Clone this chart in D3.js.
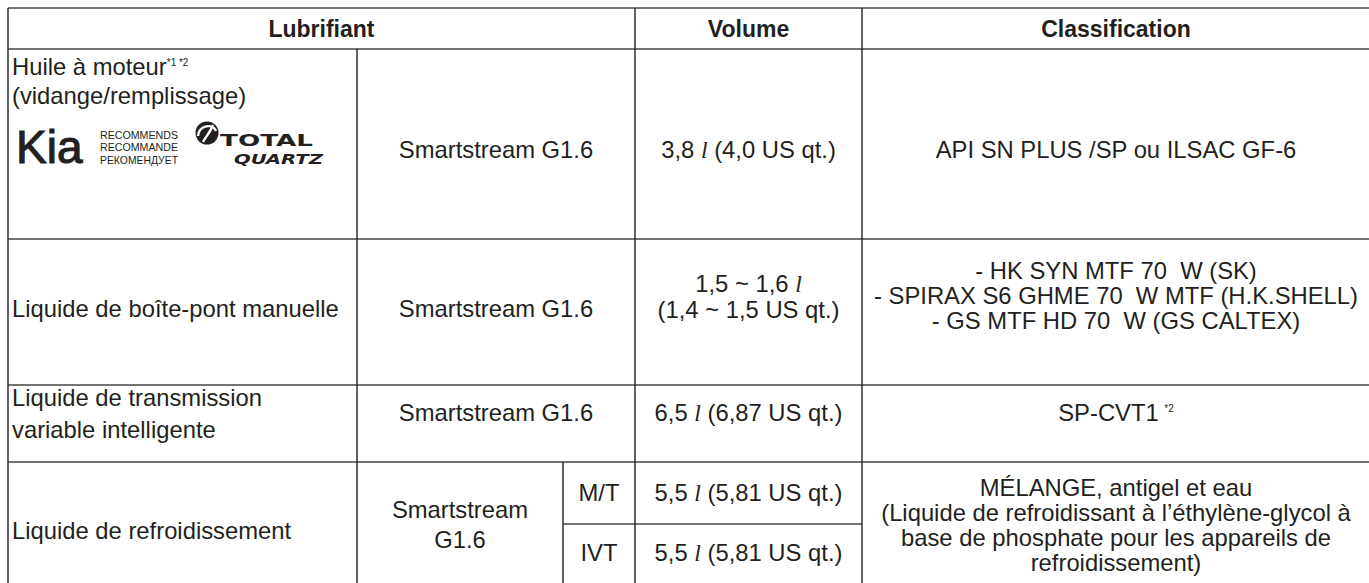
<!DOCTYPE html>
<html>
<head>
<meta charset="utf-8">
<script src="https://cdn.jsdelivr.net/npm/d3@7"></script>
<style>
  html, body { margin: 0; padding: 0; background: #fff; }
  svg { display: block; }
  text { white-space: pre; }
</style>
</head>
<body>
<svg id="chart" width="1369" height="583"></svg>
<script>
// ---------------- DATA ----------------
const headers = ["Lubrifiant", "Volume", "Classification"];
const lubricants = [
  ["Huile à moteur", "(vidange/remplissage)"],
  ["Liquide de boîte-pont manuelle"],
  ["Liquide de transmission", "variable intelligente"],
  ["Liquide de refroidissement"]
];
const lubricantNotes = ["*1 *2", "", "", ""];
const engines = [
  ["Smartstream G1.6"],
  ["Smartstream G1.6"],
  ["Smartstream G1.6"],
  ["Smartstream", "G1.6"]
];
const transmissions = ["M/T", "IVT"];
const volumes = [
  ["3,8 l (4,0 US qt.)"],
  ["1,5 ~ 1,6 l", "(1,4 ~ 1,5 US qt.)"],
  ["6,5 l (6,87 US qt.)"],
  ["5,5 l (5,81 US qt.)"],
  ["5,5 l (5,81 US qt.)"]
];
const classifications = [
  ["API SN PLUS /SP ou ILSAC GF-6"],
  ["- HK SYN MTF 70  W (SK)", "- SPIRAX S6 GHME 70  W MTF (H.K.SHELL)", "- GS MTF HD 70  W (GS CALTEX)"],
  ["SP-CVT1"],
  ["MÉLANGE, antigel et eau", "(Liquide de refroidissant à l’éthylène-glycol à", "base de phosphate pour les appareils de", "refroidissement)"]
];
const classificationNotes = ["", "", "*2", ""];
const logoBrand = "Kia";
const logoWords = ["RECOMMENDS", "RECOMMANDE", "РЕКОМЕНДУЕТ"];
const partnerWords = ["TOTAL", "QUARTZ"];

// ---------------- LAYOUT ----------------
const svg = d3.select("#chart");
const INK = "#231f20";
const FONT = "'Liberation Sans', Arial, Helvetica, sans-serif";
const FS = 23.8;

// column boundaries: left, lubricant|engine, engine|volume, volume|classification, right
const colScale = d3.scaleOrdinal().domain(["left", "eng", "vol", "cls", "right"]).range([8, 357, 635, 862, 1370]);
const subColX = 563;
// row boundaries
const rowScale = d3.scaleOrdinal().domain(d3.range(6)).range([8, 49, 239, 385, 462, 585]);
const subRowY = 524;

const g = svg.append("g");

// grid lines
const X = k => colScale(k), Y = i => rowScale(i);
const hLines = [
  [X("left"), X("right"), Y(0)], [X("left"), X("right"), Y(1)], [X("left"), X("right"), Y(2)],
  [X("left"), X("right"), Y(3)], [X("left"), X("right"), Y(4)], [subColX, X("cls"), subRowY],
  [X("left"), X("right"), Y(5)]
];
const vLines = [
  [X("left"), Y(0), Y(5)], [X("eng"), Y(1), Y(5)], [subColX, Y(4), Y(5)],
  [X("vol"), Y(0), Y(5)], [X("cls"), Y(0), Y(5)], [X("right"), Y(0), Y(5)]
];
g.selectAll("line.h").data(hLines).join("line").attr("class", "h")
  .attr("x1", d => d[0]).attr("x2", d => d[1]).attr("y1", d => d[2]).attr("y2", d => d[2])
  .attr("stroke", "#444").attr("stroke-width", 1.6);
g.selectAll("line.v").data(vLines).join("line").attr("class", "v")
  .attr("x1", d => d[0]).attr("x2", d => d[0]).attr("y1", d => d[1]).attr("y2", d => d[2])
  .attr("stroke", "#222").attr("stroke-width", 1.4);

// helper: draw multi-line text; a token "l" alone is drawn as the italic litre sign
function drawLines(x, cy, lines, spacing, anchor, opts = {}) {
  const n = lines.length;
  lines.forEach((line, i) => {
    const y = cy + (i - (n - 1) / 2) * spacing;
    const t = g.append("text")
      .attr("x", x).attr("y", y).attr("dy", "0.35em")
      .attr("text-anchor", anchor)
      .attr("font-family", FONT).attr("font-size", opts.size || FS)
      .attr("font-weight", opts.weight || "normal")
      .attr("fill", INK);
    const parts = line.split(/(\sl(?=\s|$))/);
    parts.forEach(p => {
      if (/^\sl$/.test(p)) {
        t.append("tspan").text(" ");
        t.append("tspan").attr("font-family", "'Liberation Serif', 'DejaVu Serif', serif")
          .attr("font-style", "italic").text("l");
      } else if (p.length) {
        t.append("tspan").text(p);
      }
    });
    if (opts.note && i === 0) {
      t.append("tspan").attr("font-size", 10).attr("dy", "-0.9em").text(opts.note);
    }
  });
}

// header
const headerCy = 29;
drawLines((X("left") + X("vol")) / 2, headerCy, [headers[0]], 25, "middle", { weight: "bold", size: 23 });
drawLines((X("vol") + X("cls")) / 2, headerCy, [headers[1]], 25, "middle", { weight: "bold", size: 23 });
drawLines((X("cls") + X("right")) / 2, headerCy, [headers[2]], 25, "middle", { weight: "bold", size: 23 });

// lubricant column (left aligned)
const lubCy = [81, 309, 414, 531];
const lubSpacing = [29, 0, 32, 0];
lubricants.forEach((lines, i) => {
  drawLines(X("left") + 4, lubCy[i], lines, lubSpacing[i], "start", { note: lubricantNotes[i] ? lubricantNotes[i] : "" });
});

// engine column
const engCy = [150, 309, 413, 525];
engines.forEach((lines, i) => {
  const right = i === 3 ? subColX : X("vol");
  drawLines((X("eng") + right) / 2, engCy[i], lines, 30, "middle");
});

// transmissions sub column
const subCy = [493, 553];
transmissions.forEach((t, i) => drawLines((subColX + X("vol")) / 2, subCy[i], [t], 25, "middle"));

// volume column
const volCy = [150, 297, 413, 493, 553];
volumes.forEach((lines, i) => drawLines((X("vol") + X("cls")) / 2, volCy[i], lines, 26, "middle"));

// classification column
const clsCy = [150, 296, 413, 525];
classifications.forEach((lines, i) => {
  drawLines((X("cls") + X("right")) / 2, clsCy[i], lines, 25, "middle", { note: classificationNotes[i] ? "  " + classificationNotes[i] : "" });
});

// ---------------- LOGOS (row 1) ----------------
const logo = g.append("g");
logo.append("text").attr("x", 16).attr("y", 163)
  .attr("font-family", FONT).attr("font-size", 46).attr("fill", INK)
  .attr("stroke", INK).attr("stroke-width", 1.1).text(logoBrand);
logo.selectAll("text.rec").data(logoWords).join("text").attr("class", "rec")
  .attr("x", 100).attr("y", (d, i) => 139 + i * 12.3)
  .attr("font-family", FONT).attr("font-size", 10.2).attr("fill", INK)
  .attr("textLength", 78).attr("lengthAdjust", "spacingAndGlyphs").text(d => d);

// TOTAL emblem
const em = logo.append("g").attr("transform", "translate(207,133)");
em.append("circle").attr("r", 11.5).attr("fill", INK);
em.append("path").attr("d", "M-9,3 C-8,-8 6,-10 9,-2").attr("fill", "none").attr("stroke", "#fff").attr("stroke-width", 2.4);
em.append("path").attr("d", "M-4,9 C-1,3 3,0 6,-8").attr("fill", "none").attr("stroke", "#fff").attr("stroke-width", 2.4);

logo.append("text").attr("x", 220).attr("y", 145.5)
  .attr("font-family", "'DejaVu Sans', sans-serif").attr("font-weight", "bold").attr("font-size", 16.5)
  .attr("fill", INK).attr("textLength", 93).attr("lengthAdjust", "spacingAndGlyphs").text(partnerWords[0]);
logo.append("text").attr("x", 234).attr("y", 164)
  .attr("font-family", "'DejaVu Sans', sans-serif").attr("font-weight", "bold").attr("font-style", "italic").attr("font-size", 14.5)
  .attr("fill", INK).attr("textLength", 89).attr("lengthAdjust", "spacingAndGlyphs").text(partnerWords[1]);
</script>
</body>
</html>
